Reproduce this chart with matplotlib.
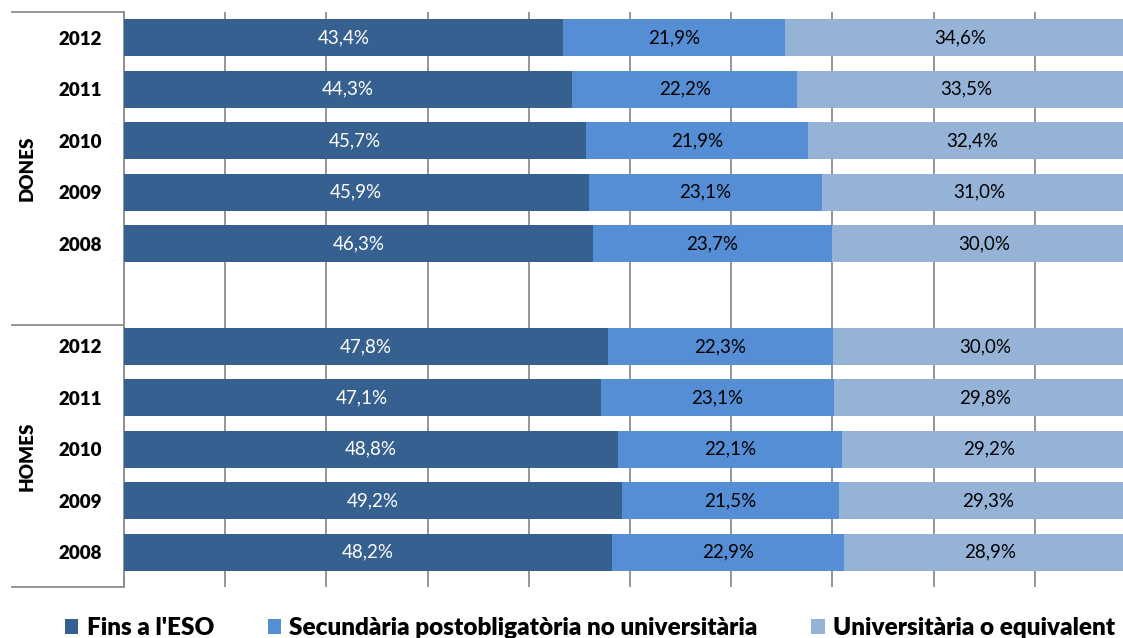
import numpy as np
import matplotlib
matplotlib.use("Agg")
import matplotlib.pyplot as plt
from matplotlib.lines import Line2D
from matplotlib.patches import Patch

plt.rcParams['font.family'] = ['Lato', 'DejaVu Sans']

# dades (% sobre el total)
groups = ["DONES", "HOMES"]
years = ["2012", "2011", "2010", "2009", "2008"]
fins_eso = {"DONES": [43.4, 44.3, 45.7, 45.9, 46.3],
            "HOMES": [47.8, 47.1, 48.8, 49.2, 48.2]}
secundaria = {"DONES": [21.9, 22.2, 21.9, 23.1, 23.7],
              "HOMES": [22.3, 23.1, 22.1, 21.5, 22.9]}
universitaria = {"DONES": [34.6, 33.5, 32.4, 31.0, 30.0],
                 "HOMES": [30.0, 29.8, 29.2, 29.3, 28.9]}
series_names = ["Fins a l'ESO", "Secundària postobligatòria no universitària",
                "Universitària o equivalent"]
colors = ["#36608F", "#558ED5", "#95B3D7"]
text_colors = ["white", "black", "black"]

W, H = 1123, 638
fig = plt.figure(figsize=(W / 100, H / 100), dpi=100)
ax_left, ax_top, ax_bot = 124, 12, 578
ax = fig.add_axes([ax_left / W, 1 - ax_bot / H, 1 - ax_left / W, (ax_bot - ax_top) / H])

# posicions de les files: 5 anys dones, fila buida, 5 anys homes
rows = {"DONES": np.arange(0, 5), "HOMES": np.arange(6, 11)}
bar_h = 0.72

for g in groups:
    left = np.zeros(5)
    vals = [fins_eso[g], secundaria[g], universitaria[g]]
    for i, v in enumerate(vals):
        v = np.array(v)
        ax.barh(rows[g], v, left=left, height=bar_h, color=colors[i], zorder=3)
        for y, l, w in zip(rows[g], left, v):
            ax.text(l + w / 2, y, f"{w:.1f}%".replace(".", ","), ha="center", va="center",
                    fontsize=13.5, color=text_colors[i], zorder=4)
        left = left + v

ax.set_ylim(10.5, -0.5)
ax.set_xlim(0, (W - ax_left) / 1012 * 100)

ax.set_xticks(np.arange(0, 100, 10))
ax.set_xticklabels([])
ax.xaxis.grid(True, color="#8C8C8C", linewidth=1.3, zorder=0)
ax.set_axisbelow(True)
ax.tick_params(axis="x", length=6.5, width=1.3, color="#8C8C8C", direction="out")

ax.set_yticks(np.concatenate([rows["DONES"], rows["HOMES"]]))
ax.set_yticklabels(years + years, fontsize=13.5, fontweight="heavy")
ax.tick_params(axis="y", length=0, pad=16)

for s in ["top", "right", "bottom"]:
    ax.spines[s].set_visible(False)
ax.spines["left"].set_color("#8C8C8C")
ax.spines["left"].set_linewidth(1.3)

# línies i etiquetes del nivell de grup
ax_w = W - ax_left
ax_hpx = ax_bot - ax_top
x0 = -(ax_left - 12) / ax_w
for ypx in [12, 325, 587]:
    ya = 1 - (ypx - ax_top) / ax_hpx
    ax.add_line(Line2D([x0, 0], [ya, ya], transform=ax.transAxes, color="#8C8C8C",
                       linewidth=1.3, clip_on=False))
ax.add_line(Line2D([0, 0], [1 - (587 - ax_top) / ax_hpx, 0], transform=ax.transAxes,
                   color="#8C8C8C", linewidth=1.3, clip_on=False))
for g, ypx in [("DONES", 168), ("HOMES", 456)]:
    fig.text(27 / W, 1 - ypx / H, g, rotation=90, ha="center", va="center",
             fontsize=13.5, fontweight="heavy")

handles = [Patch(facecolor=c) for c in colors]
fig.legend(handles, series_names, loc="center", bbox_to_anchor=(590 / W, 1 - 628 / H),
           ncol=3, frameon=False, prop={"size": 17.5, "weight": "heavy"},
           handlelength=0.55, handleheight=0.55, handletextpad=0.35, columnspacing=2.2)

fig.savefig("out.png", dpi=100)
